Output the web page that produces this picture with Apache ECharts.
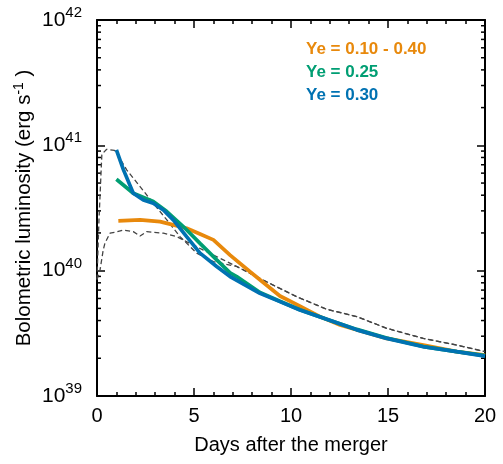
<!DOCTYPE html>
<html>
<head>
<meta charset="utf-8">
<script src="https://cdn.jsdelivr.net/npm/echarts@6/dist/echarts.min.js"></script>
<style>
  html, body { margin: 0; padding: 0; background: #fff; }
  #main { width: 503px; height: 464px; }
</style>
</head>
<body>
<div id="main"></div>
<script>
// days after merger and bolometric luminosity (erg/s)
var ye30Days = [1.0, 1.36, 1.87, 2.39, 2.9, 3.42, 3.93, 4.62, 5.31, 6.17, 6.86, 8.4, 9.43, 10.46, 11.84, 13.39, 14.93, 16.82, 18.54, 20];
var ye30Lum = [9.2e40, 6.4e40, 4.15e40, 3.66e40, 3.45e40, 3.05e40, 2.54e40, 1.87e40, 1.38e40, 1.08e40, 8.98e39, 6.6e39, 5.66e39, 4.85e39, 4.09e39, 3.37e39, 2.88e39, 2.47e39, 2.26e39, 2.08e39];

var ye25Days = [1.0, 1.87, 2.9, 3.6, 4.46, 5.31, 6.17, 6.86, 7.2, 8.4, 9.43, 10.46, 11.84, 13.39, 14.93, 16.82, 18.54, 20];
var ye25Lum = [5.36e40, 4.15e40, 3.56e40, 2.96e40, 2.24e40, 1.65e40, 1.22e40, 9.6e39, 8.98e39, 6.7e39, 5.7e39, 4.88e39, 4.1e39, 3.4e39, 2.9e39, 2.48e39, 2.26e39, 2.1e39];

var yeMixDays = [1.1, 2.22, 3.25, 3.93, 4.62, 5.31, 6.0, 6.86, 7.89, 9.43, 10.46, 11.49, 12.53, 13.73, 14.93, 16.82, 18.54, 20];
var yeMixLum = [2.5e40, 2.54e40, 2.46e40, 2.32e40, 2.18e40, 1.96e40, 1.76e40, 1.33e40, 9.8e39, 6.28e39, 5.22e39, 4.3e39, 3.69e39, 3.26e39, 2.88e39, 2.55e39, 2.26e39, 2.12e39];

var upperDays = [0, 0.1, 0.25, 0.5, 0.9, 1.02, 1.53, 2.22, 2.9, 3.6, 4.28, 5.14, 6.0, 7.2, 8.57, 10.29, 11.84, 13.39, 14.93, 16.82, 18.54, 20];
var upperLum = [8.5e39, 2.5e40, 8.5e40, 9.3e40, 9.1e40, 8.65e40, 6.37e40, 4.69e40, 3.45e40, 2.54e40, 1.87e40, 1.38e40, 1.18e40, 1.08e40, 8.4e39, 6.2e39, 4.92e39, 4.3e39, 3.47e39, 2.88e39, 2.55e39, 2.26e39];

var lowerDays = [0, 0.15, 0.32, 0.41, 0.67, 1.02, 1.36, 1.87, 2.22, 2.56, 3.42, 4.11, 4.79, 5.48, 6.51, 7.2, 8.57, 10.29, 11.84, 13.39, 14.93, 16.82, 18.54, 20];
var lowerLum = [8.5e39, 1.0e40, 1.46e40, 1.66e40, 1.99e40, 2.04e40, 2.11e40, 2.05e40, 1.89e40, 2.05e40, 1.99e40, 1.87e40, 1.65e40, 1.46e40, 1.22e40, 1.08e40, 8.4e39, 6.2e39, 4.92e39, 4.3e39, 3.47e39, 2.88e39, 2.55e39, 2.26e39];

var seriesNames = ['Ye = 0.10 - 0.40', 'Ye = 0.25', 'Ye = 0.30'];
var seriesColors = ['#E8890C', '#009E73', '#0072B2'];

var xTicks = [0, 5, 10, 15, 20];
var yDecades = [1e39, 1e40, 1e41, 1e42];

function pairs(xs, ys) {
    var out = [];
    for (var i = 0; i < xs.length; i++) out.push([xs[i], ys[i]]);
    return out;
}

var font = 'Liberation Sans, Arial, sans-serif';
var chart = echarts.init(document.getElementById('main'));

var xAxisBase = {
    type: 'value',
    min: xTicks[0],
    max: xTicks[xTicks.length - 1],
    interval: 5,
    splitLine: { show: false },
    axisLine: { show: true, onZero: false, lineStyle: { color: '#000', width: 2 } },
    axisTick: { show: true, inside: true, length: 8, lineStyle: { color: '#000', width: 1.5 } },
    minorTick: { show: true, splitNumber: 5, length: 4, lineStyle: { color: '#000', width: 1.5 } }
};

var yAxisBase = {
    type: 'log',
    logBase: 10,
    min: yDecades[0],
    max: yDecades[yDecades.length - 1],
    splitLine: { show: false },
    axisLine: { show: true, onZero: false, lineStyle: { color: '#000', width: 2 } },
    axisTick: { show: true, inside: true, length: 8, lineStyle: { color: '#000', width: 1.5 } }
};

var option = {
    animation: false,
    backgroundColor: '#fff',
    grid: { left: 97, right: 18, top: 20, bottom: 68, containLabel: false, outerBoundsMode: 'none' },
    legend: {
        orient: 'vertical',
        left: 296,
        top: 36,
        icon: 'none',
        itemWidth: 0,
        itemGap: 6,
        selectedMode: false,
        textStyle: { fontFamily: font, fontSize: 17, fontWeight: 'bold' },
        data: seriesNames.map(function (n, i) {
            return { name: n, textStyle: { color: seriesColors[i] } };
        })
    },
    xAxis: [
        Object.assign({}, xAxisBase, {
            position: 'bottom',
            name: 'Days after the merger',
            nameLocation: 'middle',
            nameGap: 39,
            nameTextStyle: { fontFamily: font, fontSize: 20, color: '#000' },
            axisLabel: { fontFamily: font, fontSize: 20, color: '#000', margin: 10 }
        }),
        Object.assign({}, xAxisBase, { position: 'top', axisLabel: { show: false } })
    ],
    yAxis: [
        Object.assign({}, yAxisBase, {
            position: 'left',
            name: '{a|Bolometric luminosity (erg s}{s|-1}{a| )}',
            nameLocation: 'middle',
            nameRotate: 90,
            nameGap: 61,
            nameMoveOverlap: false,
            nameTextStyle: {
                color: '#000',
                rich: {
                    a: { fontFamily: font, fontSize: 20.5, color: '#000' },
                    s: { fontFamily: font, fontSize: 14, color: '#000', padding: [0, 0, 10, 0] }
                }
            },
            axisLabel: {
                margin: 15,
                formatter: function (v) {
                    return '{b|10}{s|' + Math.round(Math.log10(v)) + '}';
                },
                rich: {
                    b: { fontFamily: font, fontSize: 21, color: '#000' },
                    s: { fontFamily: font, fontSize: 15, color: '#000', padding: [0, 0, 14, 0] }
                }
            }
        }),
        Object.assign({}, yAxisBase, { position: 'right', axisLabel: { show: false } })
    ],
    series: [
        {
            name: 'upper', type: 'line', data: pairs(upperDays, upperLum), showSymbol: false,
            lineStyle: { color: '#444', width: 1.3, type: [5, 3] }, z: 1
        },
        {
            name: 'lower', type: 'line', data: pairs(lowerDays, lowerLum), showSymbol: false,
            lineStyle: { color: '#444', width: 1.3, type: [5, 3] }, z: 1
        },
        {
            name: seriesNames[0], type: 'line', data: pairs(yeMixDays, yeMixLum), showSymbol: false,
            color: seriesColors[0], lineStyle: { color: seriesColors[0], width: 3.7 }, z: 2
        },
        {
            name: seriesNames[1], type: 'line', data: pairs(ye25Days, ye25Lum), showSymbol: false,
            color: seriesColors[1], lineStyle: { color: seriesColors[1], width: 3.7 }, z: 3
        },
        {
            name: seriesNames[2], type: 'line', data: pairs(ye30Days, ye30Lum), showSymbol: false,
            color: seriesColors[2], lineStyle: { color: seriesColors[2], width: 3.7 }, z: 4
        }
    ]
};

chart.setOption(option);

// minor ticks of the log axis at 2..9 times each decade, on both sides
var left = chart.convertToPixel({ xAxisIndex: 0 }, xTicks[0]);
var right = chart.convertToPixel({ xAxisIndex: 0 }, xTicks[xTicks.length - 1]);
var minor = [];
for (var d = 0; d < yDecades.length - 1; d++) {
    for (var k = 2; k <= 9; k++) {
        var py = chart.convertToPixel({ yAxisIndex: 0 }, k * yDecades[d]);
        minor.push({ type: 'line', shape: { x1: left, y1: py, x2: left + 4, y2: py }, style: { stroke: '#000', lineWidth: 1.5 } });
        minor.push({ type: 'line', shape: { x1: right, y1: py, x2: right - 4, y2: py }, style: { stroke: '#000', lineWidth: 1.5 } });
    }
}
chart.setOption({ graphic: minor });
</script>
</body>
</html>
